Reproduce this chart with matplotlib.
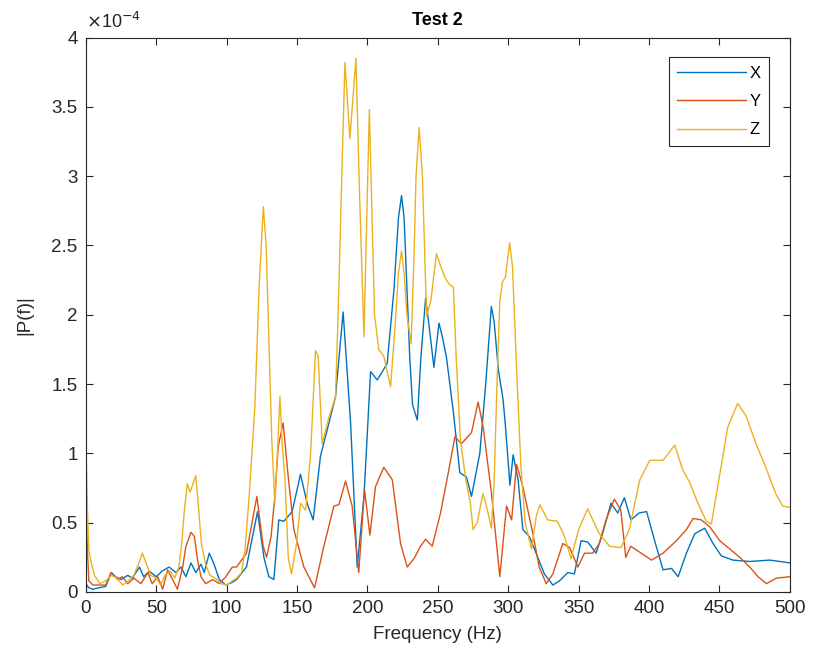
import matplotlib
matplotlib.use('Agg')
import matplotlib.pyplot as plt
from matplotlib.ticker import FuncFormatter

# |P(f)|, values in units of 1e-4
x_freq = [0, 2, 5, 9, 14, 18, 21, 25, 29.6, 33, 38, 41, 45, 50, 54, 59, 64, 67.5, 71, 74.6,
          78, 81.7, 84, 87.6, 91, 94.7, 99.4, 104, 107, 114, 121.9, 126.4, 129.9, 133.5, 137,
          140.6, 146.5, 152.4, 157.1, 161.4, 166.6, 171.4, 177.3, 182.7, 188, 192.7, 197.5, 202.2,
          206.9, 210, 214, 218.8, 222, 224.2, 226, 228, 230, 232, 235.4, 238, 241.3, 244, 247.2,
          250.8, 253, 256, 261, 265.6, 270.3, 273.9, 276, 279.8, 284, 288, 290, 293, 296.3, 298,
          301.2, 303.5, 307, 310.4, 315, 319.8, 325.7, 331.7, 336.4, 342.3, 347, 351.8, 356.5, 362.4, 367,
          373, 377.8, 382.5, 387.2, 393, 398.3, 404, 410, 416, 420.7, 426.6, 432.5, 439.6, 445.5, 451.4,
          459.7, 471.6, 485.8, 500]
x_vals = [0.06, 0.03, 0.02, 0.03, 0.04, 0.14, 0.11, 0.09, 0.12, 0.10, 0.18, 0.11, 0.15, 0.11, 0.15,
          0.18, 0.14, 0.18, 0.11, 0.21, 0.14, 0.20, 0.14, 0.28, 0.20, 0.09, 0.05, 0.07, 0.09, 0.18,
          0.58, 0.25, 0.11, 0.09, 0.52, 0.51, 0.58, 0.85, 0.64, 0.52, 0.98, 1.17, 1.41, 2.02,
          1.22, 0.18, 0.69, 1.59, 1.53, 1.58, 1.65, 2.18, 2.7, 2.86, 2.7, 2.2, 1.7, 1.35,
          1.24, 1.7, 2.12, 1.9, 1.62, 1.94, 1.85, 1.7, 1.3, 0.86, 0.83, 0.69, 0.8, 1.0, 1.5,
          2.06, 1.95, 1.6, 1.39, 1.2, 0.77, 0.99, 0.81, 0.45, 0.40, 0.28, 0.13, 0.05, 0.08, 0.14,
          0.13, 0.37, 0.36, 0.28, 0.42, 0.64, 0.57, 0.68, 0.52, 0.57, 0.58, 0.37, 0.16, 0.17, 0.11,
          0.28, 0.42, 0.46, 0.35, 0.26, 0.23, 0.22, 0.23, 0.21]

y_freq = [0, 1, 2, 5, 9, 14, 17.8, 22.5, 26, 29.6, 34, 39, 44, 47, 51, 54.5, 58, 61.5, 65, 68.7,
          71, 74.6, 77, 79.3, 81.7, 85, 90, 94.7, 99.4, 104, 107, 114, 121.4, 125.9, 128.3,
          131.5, 134.2, 136.6, 140.1, 143.5, 147.7, 154.8, 162.4, 169, 176.1, 179.7, 184.4, 189.1, 193.8,
          197.9, 201.7, 205.7, 211.6, 217.6, 223.5, 228.2, 233, 237.7, 241.3, 246, 251.9, 257.4, 262.1, 266.8, 273.9,
          278.6, 282.2, 288.1, 294, 298.8, 302.4, 305.9, 310.4, 317.5, 322, 327, 331.7, 338.8, 343.6, 349.5,
          354.2, 360, 364.7, 369.5, 375.4, 380, 383.5, 387, 393, 401.8, 410, 419.5, 426.6, 431.3, 437.2,
          443.2, 450.3, 457.4, 464.5, 471.6, 477.5, 483.5, 490.5, 500]
y_vals = [0.7, 0.3, 0.08, 0.05, 0.05, 0.05, 0.14, 0.09, 0.11, 0.06, 0.10, 0.06, 0.14, 0.06, 0.11,
          0.02, 0.16, 0.09, 0.02, 0.18, 0.33, 0.43, 0.40, 0.23, 0.11, 0.06, 0.09, 0.06, 0.11, 0.18,
          0.18, 0.28, 0.69, 0.33, 0.25, 0.4, 0.69, 1.05, 1.22, 0.85, 0.45, 0.18, 0.03, 0.33,
          0.62, 0.63, 0.8, 0.62, 0.14, 0.74, 0.41, 0.76, 0.9, 0.81, 0.35, 0.18, 0.24, 0.33, 0.38, 0.33,
          0.57, 0.86, 1.12, 1.07, 1.15, 1.37, 1.19, 0.71, 0.11, 0.62, 0.52, 0.92, 0.76, 0.42, 0.18,
          0.06, 0.13, 0.35, 0.32, 0.18, 0.28, 0.28, 0.35, 0.52, 0.67, 0.59, 0.25, 0.33, 0.29, 0.23,
          0.28, 0.37, 0.45, 0.53, 0.52, 0.47, 0.37, 0.31, 0.25, 0.18, 0.11, 0.06, 0.1, 0.11]

z_freq = [0, 1, 2, 4, 6, 10, 14, 18, 22, 26, 30, 34, 38, 40, 43, 46, 50, 53, 56, 60,
          63, 66, 68, 70, 72, 74, 76, 78, 80, 82, 85, 88, 92, 96, 100, 104, 107, 110.5, 113, 116,
          120, 123, 126, 128, 130, 132, 134.2, 136, 137.8, 139.5, 141.3, 143.7, 146, 149.6, 152.4, 156, 159.5,
          163.1, 165, 167.8, 172.6, 177.3, 179.7, 182, 184, 187.5, 191.8, 194, 197.5, 201.3, 205,
          208, 211.6, 216.4, 219.5, 222, 224.2, 226, 228, 231, 233, 234.5, 236.7, 239, 242, 245, 249, 252, 255, 258,
          261, 263, 266, 270, 273, 275, 278, 282, 285, 288, 290, 292, 294, 296, 298, 301, 303, 306, 309, 312,
          316.5, 320, 322.5, 328, 335, 340, 344.6, 350, 356.4, 364.7, 372, 380, 386, 393.5, 400.6,
          410, 418.3, 424, 428.9, 434.8, 440.8, 444.3, 450, 456, 463, 469, 476, 483, 490, 495, 500]
z_vals = [1.08, 0.6, 0.3, 0.2, 0.12, 0.06, 0.08, 0.12, 0.1, 0.05, 0.08, 0.12, 0.22, 0.28, 0.2,
          0.12, 0.1, 0.05, 0.12, 0.15, 0.1, 0.18, 0.35, 0.6, 0.78, 0.72, 0.78, 0.84, 0.6, 0.35,
          0.2, 0.12, 0.1, 0.06, 0.05, 0.08, 0.1, 0.14, 0.3, 0.7,
          1.34, 2.2, 2.78, 2.5, 1.8, 1.1, 0.64, 1.0, 1.41, 1.05, 0.83, 0.25, 0.13, 0.35, 0.64, 0.59, 0.98,
          1.74, 1.7, 1.07, 1.26, 1.41, 2.2, 3.1, 3.82, 3.27, 3.85, 3.0, 1.84, 3.48, 2.0,
          1.75, 1.7, 1.48, 1.9, 2.3, 2.46, 2.3, 2.0, 1.79, 2.4, 3.0, 3.35, 3.0, 1.99, 2.1, 2.44, 2.35, 2.27, 2.22,
          2.2, 1.7, 1.1, 0.8, 0.65, 0.45, 0.5, 0.71, 0.6, 0.46, 0.8, 1.5, 2.1, 2.24, 2.27, 2.52, 2.35, 1.6, 0.9, 0.5,
          0.31, 0.55, 0.63, 0.52, 0.51, 0.4, 0.24, 0.45, 0.60, 0.42, 0.33, 0.32, 0.45, 0.81, 0.95,
          0.95, 1.06, 0.88, 0.79, 0.64, 0.51, 0.49, 0.83, 1.19, 1.36, 1.27, 1.07, 0.9, 0.71, 0.62, 0.61]

scale = 1e-4
labels = ['X', 'Y', 'Z']
colors = ['#0072BD', '#D95319', '#EDB120']
ticks_y = [0, 0.5, 1, 1.5, 2, 2.5, 3, 3.5, 4]

plt.rcParams['font.family'] = ['Liberation Sans', 'DejaVu Sans']
axis_col = '#262626'

fig = plt.figure(figsize=(8.15, 6.65), dpi=100)
ax = fig.add_axes([0.1055, 0.1098, 0.8635, 0.8338])

series = [(x_freq, x_vals), (y_freq, y_vals), (z_freq, z_vals)]
for (f, v), lab, c in zip(series, labels, colors):
    ax.plot(f, [a * scale for a in v], color=c, lw=1.0, label=lab)

ax.set_xlim(0, 500)
ax.set_ylim(0, 4 * scale)
ax.set_xticks(range(0, 501, 50))
ax.set_yticks([t * scale for t in ticks_y])
ax.yaxis.set_major_formatter(FuncFormatter(lambda val, pos: '%g' % round(val / scale, 3)))
ax.tick_params(direction='in', length=5, width=0.8, top=True, right=True,
               labelsize=13.5, colors=axis_col, pad=6)
for s in ax.spines.values():
    s.set_color(axis_col)
    s.set_linewidth(0.8)

ax.text(0.0, 1.01, r'$\times$10$^{-4}$', transform=ax.transAxes, fontsize=13,
        color=axis_col, ha='left', va='bottom')
ax.set_title('Test 2', fontsize=13, fontweight='bold', color='black', pad=9)
ax.set_xlabel('Frequency (Hz)', fontsize=13.5, color=axis_col, labelpad=6)
ax.set_ylabel('|P(f)|', fontsize=13.5, color=axis_col, labelpad=13)

leg = ax.legend(loc='upper right', bbox_to_anchor=(0.970, 0.964), borderaxespad=0,
                fontsize=12, handlelength=4.1, handletextpad=0.2, labelspacing=0.8,
                borderpad=0.5, fancybox=False, framealpha=1, edgecolor=axis_col)
leg.get_frame().set_linewidth(0.8)

fig.savefig('out.png', dpi=100)
